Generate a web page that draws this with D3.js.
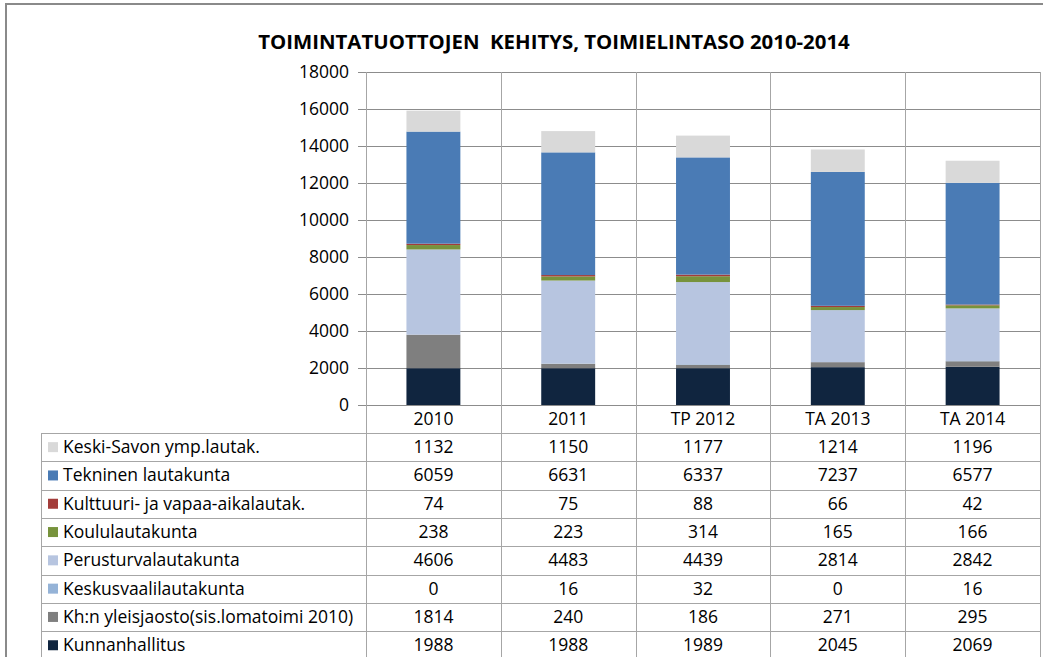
<!DOCTYPE html>
<html>
<head>
<meta charset="utf-8">
<title>Toimintatuottojen kehitys</title>
<script src="https://cdnjs.cloudflare.com/ajax/libs/d3/7.8.5/d3.min.js"></script>
<style>
  body { margin: 0; background: #fff; }
  svg { display: block; font-family: "Open Sans", "Noto Sans", sans-serif; }
  .grid line { stroke: #8c8c8c; }
  .tbl line { stroke: #a6a6a6; }
</style>
</head>
<body>
<svg id="chart"></svg>
<script>
// data
const years = ["2010", "2011", "TP 2012", "TA 2013", "TA 2014"];
const seriesNames = [
  "Kunnanhallitus",
  "Kh:n yleisjaosto(sis.lomatoimi 2010)",
  "Keskusvaalilautakunta",
  "Perusturvalautakunta",
  "Koululautakunta",
  "Kulttuuri- ja vapaa-aikalautak.",
  "Tekninen lautakunta",
  "Keski-Savon ymp.lautak."
];
const kunnanhallitus = [1988, 1988, 1989, 2045, 2069];
const khYleisjaosto = [1814, 240, 186, 271, 295];
const keskusvaali = [0, 16, 32, 0, 16];
const perusturva = [4606, 4483, 4439, 2814, 2842];
const koulu = [238, 223, 314, 165, 166];
const kulttuuri = [74, 75, 88, 66, 42];
const tekninen = [6059, 6631, 6337, 7237, 6577];
const keskiSavo = [1132, 1150, 1177, 1214, 1196];
const yTicks = [0, 2000, 4000, 6000, 8000, 10000, 12000, 14000, 16000, 18000];
const colors = ["#10253f", "#7f7f7f", "#95b3d7", "#b7c5e0", "#77933c", "#a33c3a", "#4a7bb5", "#d9d9d9"];

const valueArrays = [kunnanhallitus, khYleisjaosto, keskusvaali, perusturva, koulu, kulttuuri, tekninen, keskiSavo];
const rows = years.map((yr, i) => {
  const r = { year: yr };
  seriesNames.forEach((s, k) => r[s] = valueArrays[k][i]);
  return r;
});

const width = 1047, height = 657;
const fs = 17.5;
const svg = d3.select("#chart").attr("width", width).attr("height", height);

// outer frame
svg.append("line").attr("x1", 6).attr("x2", 6).attr("y1", 4).attr("y2", height).attr("stroke", "#8a8a8a").attr("stroke-width", 2);
svg.append("line").attr("x1", 5).attr("x2", 1043).attr("y1", 4).attr("y2", 4).attr("stroke", "#8a8a8a").attr("stroke-width", 2);

const plot = { left: 366, right: 1040, top: 72, bottom: 405 };
const tableLeft = 41, tableTop = 433, rowH = 28.3;

const x = d3.scaleBand().domain(years).range([plot.left, plot.right]).paddingInner(0).paddingOuter(0);
const y = d3.scaleLinear().domain([0, 18000]).range([plot.bottom, plot.top]);

// title
svg.append("text")
  .attr("x", 554).attr("y", 49)
  .attr("text-anchor", "middle")
  .attr("font-size", 20.4).attr("font-weight", "bold")
  .attr("fill", "#000")
  .style("white-space", "pre")
  .text("TOIMINTATUOTTOJEN  KEHITYS, TOIMIELINTASO 2010-2014");

// gridlines
const grid = svg.append("g").attr("class", "grid");
grid.selectAll("line").data(yTicks).join("line")
  .attr("x1", plot.left - 8).attr("x2", plot.right)
  .attr("y1", d => Math.round(y(d)) + 0.5).attr("y2", d => Math.round(y(d)) + 0.5);

// y axis labels
const yAxis = d3.axisLeft(y).tickValues(yTicks).tickSize(0).tickPadding(17).tickFormat(d3.format("d"));
svg.append("g").attr("transform", `translate(${plot.left},0)`).call(yAxis)
  .call(g => g.select(".domain").remove())
  .call(g => g.selectAll("text").attr("font-size", fs).attr("fill", "#000").attr("font-family", "Open Sans, Noto Sans, sans-serif"));

// stacked bars
const stack = d3.stack().keys(seriesNames);
const stacked = stack(rows);
const barW = x.bandwidth() * 0.4;
svg.append("g").selectAll("g").data(stacked).join("g")
  .attr("fill", (d, i) => colors[i])
  .selectAll("rect").data(d => d).join("rect")
  .attr("x", d => x(d.data.year) + (x.bandwidth() - barW) / 2)
  .attr("width", barW)
  .attr("y", d => y(d[1]))
  .attr("height", d => y(d[0]) - y(d[1]));

// data table
const tbl = svg.append("g").attr("class", "tbl");
const nRows = seriesNames.length;
// vertical lines (category boundaries)
const bounds = years.map(d => x(d)).concat([plot.right]);
tbl.selectAll("line.v").data(bounds).join("line").attr("class", "v")
  .attr("x1", d => Math.round(d) + 0.5).attr("x2", d => Math.round(d) + 0.5)
  .attr("y1", plot.top).attr("y2", height);
tbl.append("line")
  .attr("x1", tableLeft + 0.5).attr("x2", tableLeft + 0.5)
  .attr("y1", tableTop).attr("y2", height);
tbl.selectAll("line.h").data(d3.range(nRows + 1)).join("line").attr("class", "h")
  .attr("x1", tableLeft).attr("x2", plot.right)
  .attr("y1", i => Math.round(tableTop + i * rowH) + 0.5)
  .attr("y2", i => Math.round(tableTop + i * rowH) + 0.5);

// category labels
svg.append("g").selectAll("text").data(years).join("text")
  .attr("x", d => x(d) + x.bandwidth() / 2)
  .attr("y", (plot.bottom + tableTop) / 2 + 6)
  .attr("text-anchor", "middle").attr("font-size", fs)
  .text(d => d);

// table rows, top to bottom: reversed stack order
const tableSeries = seriesNames.map((s, k) => ({ name: s, k })).reverse();
const rowG = svg.append("g").selectAll("g").data(tableSeries).join("g")
  .attr("transform", (d, i) => `translate(0,${tableTop + i * rowH + rowH / 2})`);
rowG.append("rect")
  .attr("x", 48).attr("y", -5).attr("width", 10).attr("height", 10)
  .attr("fill", d => colors[d.k]);
rowG.append("text")
  .attr("x", 63).attr("y", 6).attr("font-size", fs)
  .text(d => d.name);
rowG.selectAll("text.v").data(d => years.map((yr, i) => ({ yr, v: valueArrays[d.k][i] }))).join("text")
  .attr("class", "v")
  .attr("x", d => x(d.yr) + x.bandwidth() / 2)
  .attr("y", 6).attr("text-anchor", "middle").attr("font-size", fs)
  .text(d => d.v);
</script>
</body>
</html>
